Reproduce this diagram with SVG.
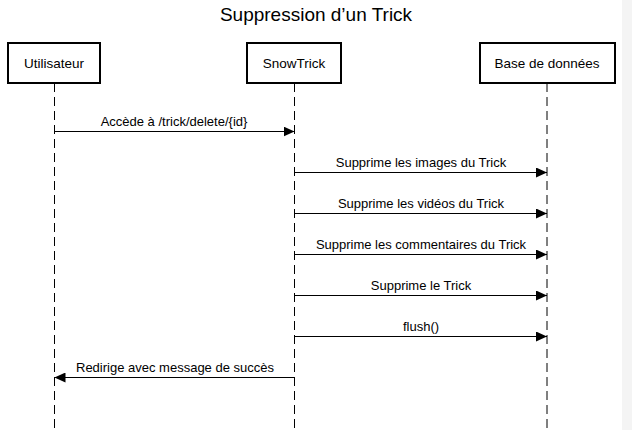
<svg xmlns="http://www.w3.org/2000/svg" width="632" height="430" viewBox="0 0 632 430">
<defs>
<style>
text{font-family:"Liberation Sans",Arial,sans-serif;fill:#000}
.box{fill:#fff;stroke:#000;stroke-width:2}
.life{stroke:#000;stroke-width:1;stroke-dasharray:9,5;fill:none}
.msg{stroke:#000;stroke-width:1;fill:none}
.lbl{font-size:13px;text-anchor:middle}
.nm{font-size:13.5px;text-anchor:middle}
</style>
<marker id="ah" viewBox="0 0 11 10" refX="11" refY="5" markerWidth="11" markerHeight="10" markerUnits="userSpaceOnUse" orient="auto">
<path d="M0,0 L11,5 L0,10 z" fill="#000"/>
</marker>
</defs>
<rect x="0" y="0" width="632" height="430" fill="#fff"/>
<rect x="622" y="0" width="10" height="430" fill="#f4f4f4"/>
<text x="316" y="21" font-size="19" text-anchor="middle">Suppression d’un Trick</text>
<g id="lifelines">
<line class="life" x1="54.5" y1="83" x2="54.5" y2="430"/>
<line class="life" x1="294.5" y1="83" x2="294.5" y2="430"/>
<line class="life" x1="547" y1="83" x2="547" y2="430"/>
</g>
<g id="utilisateur">
<rect class="box" x="8" y="43" width="92" height="40"/>
<text class="nm" x="54" y="68">Utilisateur</text>
</g>
<g id="snowtrick">
<rect class="box" x="247" y="43" width="94" height="40"/>
<text class="nm" x="294" y="68">SnowTrick</text>
</g>
<g id="bdd">
<rect class="box" x="480" y="43" width="135" height="40"/>
<text class="nm" x="547" y="68">Base de données</text>
</g>
<g id="connectors">
<line class="msg" x1="54.5" y1="131.5" x2="294.5" y2="131.5" marker-end="url(#ah)"/>
<text class="lbl" x="174" y="125.5">Accède à /trick/delete/{id}</text>
<line class="msg" x1="294.5" y1="172.5" x2="547" y2="172.5" marker-end="url(#ah)"/>
<text class="lbl" x="421" y="166.5">Supprime les images du Trick</text>
<line class="msg" x1="294.5" y1="213.5" x2="547" y2="213.5" marker-end="url(#ah)"/>
<text class="lbl" x="421" y="207.5">Supprime les vidéos du Trick</text>
<line class="msg" x1="294.5" y1="254.5" x2="547" y2="254.5" marker-end="url(#ah)"/>
<text class="lbl" x="421" y="248.5">Supprime les commentaires du Trick</text>
<line class="msg" x1="294.5" y1="295.5" x2="547" y2="295.5" marker-end="url(#ah)"/>
<text class="lbl" x="421" y="289.5">Supprime le Trick</text>
<line class="msg" x1="294.5" y1="336.5" x2="547" y2="336.5" marker-end="url(#ah)"/>
<text class="lbl" x="421" y="330.5">flush()</text>
<line class="msg" x1="294.5" y1="377.5" x2="54.5" y2="377.5" marker-end="url(#ah)"/>
<text class="lbl" x="175" y="371.5">Redirige avec message de succès</text>
</g>
</svg>
